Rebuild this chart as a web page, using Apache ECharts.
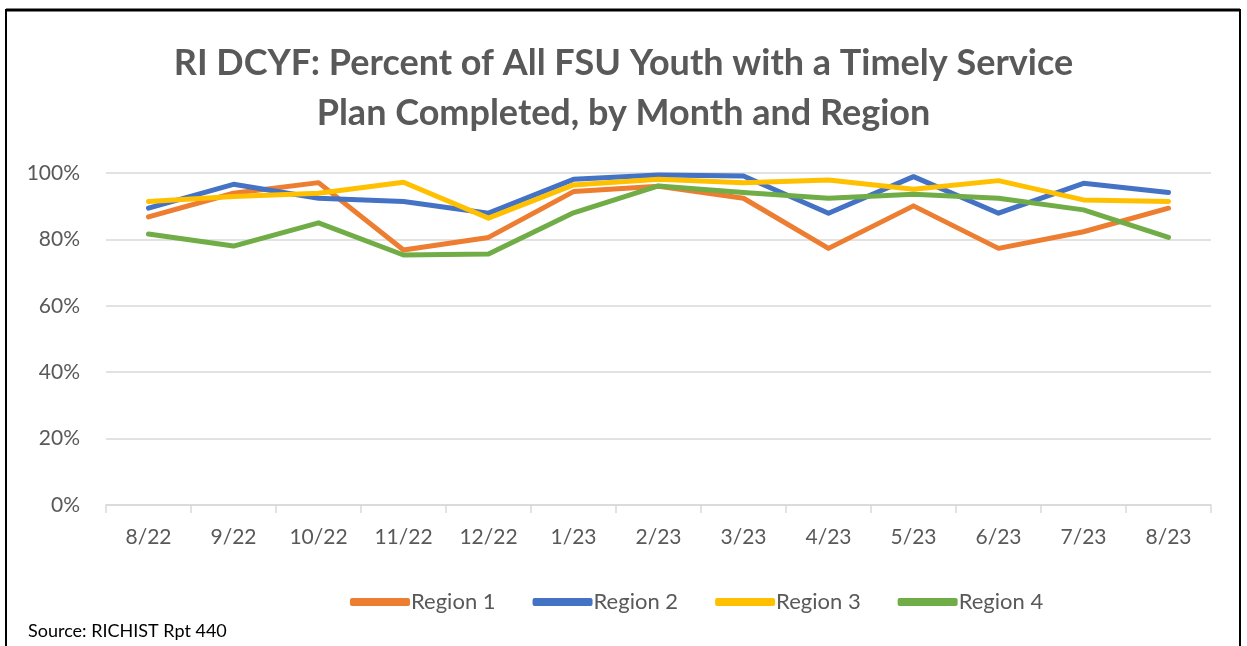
<!DOCTYPE html>
<html>
<head>
<meta charset="utf-8">
<script src="https://cdn.jsdelivr.net/npm/echarts@6/dist/echarts.min.js"></script>
<style>
  html, body { margin: 0; padding: 0; background: #fff; }
  #chart { width: 1247px; height: 646px; }
</style>
</head>
<body>
<div id="chart"></div>
<script>
// months along the x axis
var months = ['8/22', '9/22', '10/22', '11/22', '12/22', '1/23', '2/23', '3/23', '4/23', '5/23', '6/23', '7/23', '8/23'];

// percent values
var region1 = [86.8, 93.9, 97.1, 76.8, 80.6, 94.4, 96.0, 92.4, 77.3, 90.1, 77.3, 82.3, 89.4];
var region2 = [89.4, 96.6, 92.4, 91.4, 87.9, 98.1, 99.4, 99.1, 87.9, 98.9, 87.9, 96.9, 94.1];
var region3 = [91.4, 92.9, 93.9, 97.2, 86.4, 96.4, 98.1, 97.1, 97.9, 95.1, 97.7, 91.9, 91.4];
var region4 = [81.6, 78.0, 85.0, 75.3, 75.6, 88.0, 96.1, 94.1, 92.4, 93.6, 92.4, 88.9, 80.6];

var yTicks = [0, 20, 40, 60, 80, 100];

function initChart() {
    var chart = echarts.init(document.getElementById('chart'));
    var font = 'Lato, "Open Sans", sans-serif';

    function line(name, data, color) {
        return {
            name: name,
            type: 'line',
            data: data,
            symbol: 'none',
            lineStyle: { width: 5, color: color, cap: 'round', join: 'round' },
            itemStyle: { color: color },
            animation: false
        };
    }

    var option = {
        backgroundColor: '#fff',
        textStyle: { fontFamily: font },
        title: {
            text: 'RI DCYF: Percent of All FSU Youth with a Timely Service\nPlan Completed, by Month and Region',
            left: 'center',
            top: 33,
            textStyle: {
                fontFamily: font,
                fontSize: 36,
                fontWeight: 'bold',
                color: '#595959',
                lineHeight: 50
            }
        },
        legend: {
            left: 345,
            top: 586,
            itemWidth: 60,
            itemHeight: 8,
            itemGap: 37,
            icon: 'roundRect',
            textStyle: { fontSize: 22, color: '#595959', fontFamily: font, padding: [0, 0, 0, -4] },
            data: ['Region 1', 'Region 2', 'Region 3', 'Region 4']
        },
        grid: { left: 106, right: 36, top: 173, bottom: 141 },
        xAxis: {
            type: 'category',
            data: months,
            boundaryGap: true,
            axisLine: { lineStyle: { color: '#d9d9d9', width: 1.5 } },
            axisTick: { show: true, length: 8, lineStyle: { color: '#d9d9d9', width: 1.5 } },
            axisLabel: { fontSize: 21, color: '#595959', margin: 22, fontFamily: font }
        },
        yAxis: {
            type: 'value',
            min: yTicks[0],
            max: yTicks[yTicks.length - 1],
            interval: 20,
            axisLine: { show: false },
            axisTick: { show: false },
            splitLine: { lineStyle: { color: '#d9d9d9', width: 1.5 } },
            axisLabel: { fontSize: 21, color: '#595959', margin: 26, formatter: '{value}%', fontFamily: font }
        },
        graphic: [
            {
                type: 'rect',
                shape: { x: 6, y: 10, width: 1234, height: 660 },
                style: { fill: 'none', stroke: '#000', lineWidth: 2 },
                silent: true
            },
            {
                type: 'line',
                shape: { x1: 6, y1: 10, x2: 1240, y2: 10 },
                style: { stroke: '#000', lineWidth: 3 },
                silent: true
            },
            {
                type: 'text',
                left: 28,
                top: 622,
                style: { text: 'Source: RICHIST Rpt 440', fill: '#000', fontSize: 18, fontFamily: font }
            }
        ],
        series: [
            line('Region 1', region1, '#ed7d31'),
            line('Region 2', region2, '#4472c4'),
            line('Region 3', region3, '#ffc000'),
            line('Region 4', region4, '#70ad47')
        ]
    };

    chart.setOption(option);
}

initChart();
</script>
</body>
</html>
